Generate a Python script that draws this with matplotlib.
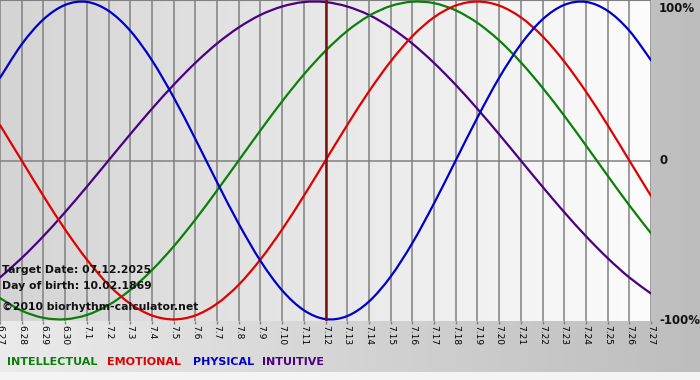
import numpy as np
import matplotlib
matplotlib.use("Agg")
import matplotlib.pyplot as plt
from matplotlib.colors import LinearSegmentedColormap
from matplotlib.path import Path
from matplotlib.patches import PathPatch

# day labels (month.day), 31 days centred on 7.12
days = ["6.27", "6.28", "6.29", "6.30", "7.1", "7.2", "7.3", "7.4", "7.5", "7.6",
        "7.7", "7.8", "7.9", "7.10", "7.11", "7.12", "7.13", "7.14", "7.15", "7.16",
        "7.17", "7.18", "7.19", "7.20", "7.21", "7.22", "7.23", "7.24", "7.25", "7.26",
        "7.27"]

# values in % read per day
physical = [52.0, 73.1, 88.8, 97.9, 99.8, 94.2, 81.7, 63.1, 39.8, 13.6, -13.6,
            -39.8, -63.1, -81.7, -94.2, -99.8, -97.9, -88.8, -73.1, -52.0, -27.0,
            0.0, 27.0, 52.0, 73.1, 88.8, 97.9, 99.8, 94.2, 81.7, 63.1]
emotional = [22.3, 0.0, -22.3, -43.4, -62.3, -78.2, -90.1, -97.5, -100.0, -97.5,
             -90.1, -78.2, -62.3, -43.4, -22.3, 0.0, 22.3, 43.4, 62.3, 78.2, 90.1,
             97.5, 100.0, 97.5, 90.1, 78.2, 62.3, 43.4, 22.3, 0.0, -22.3]
intellectual = [-86.6, -94.5, -99.0, -99.9, -97.2, -91.0, -81.5, -69.0, -54.1, -37.2,
                -18.9, 0.0, 18.9, 37.2, 54.1, 69.0, 81.5, 91.0, 97.2, 99.9, 99.0,
                94.5, 86.6, 75.6, 61.8, 45.8, 28.2, 9.5, -9.5, -28.2, -45.8]
intuitive = [-73.6, -61.4, -47.6, -32.5, -16.5, 0.0, 16.5, 32.5, 47.6, 61.4, 73.6,
             83.7, 91.6, 96.9, 99.7, 99.7, 96.9, 91.6, 83.7, 73.6, 61.4, 47.6, 32.5,
             16.5, 0.0, -16.5, -32.5, -47.6, -61.4, -73.6, -83.7]

target_idx = days.index("7.12")
info_lines = ["Target Date: 07.12.2025", "Day of birth: 10.02.1869",
              "\u00a92010 biorhythm-calculator.net"]

legend = [("INTELLECTUAL", "#0a800a"), ("EMOTIONAL", "#e00000"),
          ("PHYSICAL", "#0000c8"), ("INTUITIVE", "#4b0082")]


def smooth_path(xs, ys):
    # draw through the points with cubic bezier segments (catmull-rom tangents)
    xs = np.asarray(xs, float)
    ys = np.asarray(ys, float)
    n = len(xs)
    verts = [(xs[0], ys[0])]
    codes = [Path.MOVETO]
    for i in range(n - 1):
        i0 = max(i - 1, 0)
        i3 = min(i + 2, n - 1)
        c1 = (xs[i] + (xs[i + 1] - xs[i0]) / 6, ys[i] + (ys[i + 1] - ys[i0]) / 6)
        c2 = (xs[i + 1] - (xs[i3] - xs[i]) / 6, ys[i + 1] - (ys[i3] - ys[i]) / 6)
        verts += [c1, c2, (xs[i + 1], ys[i + 1])]
        codes += [Path.CURVE4] * 3
    return Path(verts, codes)


W, H = 700, 380
fig = plt.figure(figsize=(W / 100, H / 100), dpi=100)

# figure background gradient
bg = fig.add_axes([0, 0, 1, 1], zorder=-2)
bg_cmap = LinearSegmentedColormap.from_list("bg", ["#ebebeb", "#bdbdbd"])
bg.imshow(np.linspace(0, 1, 256)[None, :], aspect="auto", cmap=bg_cmap,
          extent=[0, 1, 0, 1])
bg.add_patch(plt.Rectangle((0, 0), 1, 8 / H, color="#f4f4f4", lw=0))
bg.set_xlim(0, 1)
bg.set_ylim(0, 1)
bg.axis("off")

ax = fig.add_axes([0, 1 - 321 / H, 651 / W, 321 / H])
ax.set_facecolor("none")
x = np.arange(len(days))
ax.set_xlim(0, len(days) - 1)
ax.set_ylim(-101, 101)

# plot area gradient
pa_cmap = LinearSegmentedColormap.from_list("pa", ["#d4d4d4", "#fcfcfc"])
ax.imshow(np.linspace(0, 1, 256)[None, :], aspect="auto", cmap=pa_cmap,
          extent=[0, len(days) - 1, -101, 101], zorder=0)

for xi in x:
    ax.axvline(xi, color="#808080", lw=1.1, zorder=1)
ax.axhline(0, color="#808080", lw=1.1, zorder=1)
ax.axhline(101, color="#808080", lw=1.5, zorder=1)

for vals, c in [(intuitive, "#4b0082"), (intellectual, "#0a800a"),
                (emotional, "#e00000"), (physical, "#0000c8")]:
    ax.add_patch(PathPatch(smooth_path(x, vals), fill=False, edgecolor=c,
                           lw=1.6, zorder=3, capstyle="round"))
ax.axvline(target_idx, color="#7a1010", lw=1.8, zorder=4)

for s in ax.spines.values():
    s.set_visible(False)
ax.set_yticks([])
ax.set_xticks(x)
ax.set_xticklabels(days, rotation=-90, fontsize=6.5, family="DejaVu Sans")
ax.tick_params(axis="x", length=2, width=1, color="#808080", pad=1)

# right side labels
for val, lab, va in [(100, "100%", "top"), (0, "0", "center"), (-101, "-100%", "center")]:
    ax.text(1.0 + 8 / 651, val, lab, transform=ax.get_yaxis_transform(),
            ha="left", va=va, fontsize=8.5, fontweight="bold", color="#111111",
            clip_on=False)

# info text inside the plot
for i, line in enumerate(info_lines):
    fig.text(2 / W, 1 - (270 + i * 16 + (5 if i == 2 else 0)) / H, line,
             fontsize=7.8, fontweight="bold", color="#111111", va="center",
             ha="left", zorder=5)

# legend words
lx = [7, 107, 193, 262]
for (word, c), px in zip(legend, lx):
    fig.text(px / W, 1 - 362 / H, word, color=c, fontsize=8, fontweight="bold",
             va="center", ha="left")

fig.savefig("out.png", dpi=100)
